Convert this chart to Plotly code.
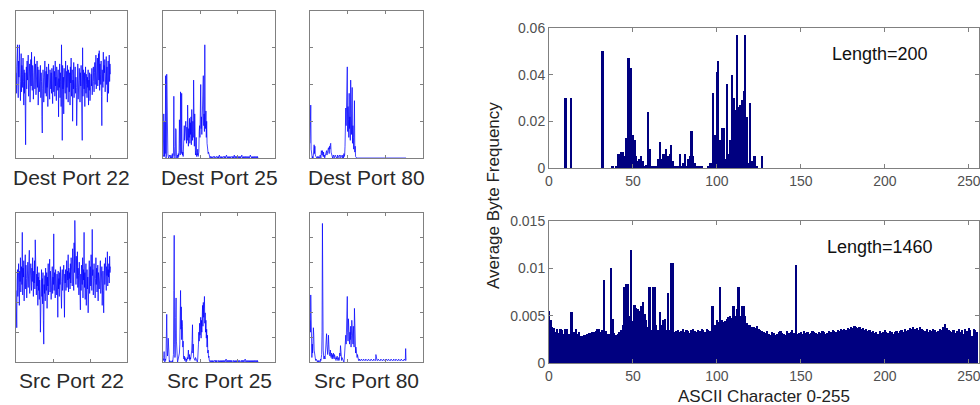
import plotly.graph_objects as go

# ---------------- data ----------------
# Small panels: byte-frequency profiles (0-100 = fraction of panel height), chars 0..255
dest22 = [
 58,44,62,70,77,50,41,66,55,77,48,60,39,52,71,45,
 63,57,48,68,52,36,60,44,58,30,9,55,62,47,66,53,
 59,70,42,61,50,64,38,57,67,49,72,55,46,63,58,40,
 61,52,69,47,56,64,43,59,51,66,48,62,36,54,60,45,
 57,49,63,41,58,52,28,17,47,60,55,38,61,50,66,44,
 53,59,42,62,48,57,35,51,64,46,55,40,60,52,47,58,
 44,61,50,37,56,63,45,53,59,42,66,49,55,39,62,51,
 57,46,60,28,54,48,64,41,58,52,35,77,50,12,63,47,
 55,30,61,49,57,44,66,52,40,59,48,63,54,38,60,50,
 45,58,36,62,51,68,42,56,60,25,53,47,65,41,57,50,
 62,44,55,48,22,59,52,64,40,57,46,61,53,38,58,49,
 63,45,56,12,75,42,60,51,47,58,35,54,62,44,57,50,
 41,55,48,60,36,53,46,58,39,52,44,57,49,61,43,55,
 48,62,52,45,58,65,50,56,70,47,61,54,68,49,59,71,
 53,73,46,64,57,50,66,42,22,60,55,48,72,52,63,58,
 67,45,60,55,69,50,62,38,58,66,44,61,70,52,64,57]

dest25 = [
 2,1,30,12,1,25,3,56,0,1,57,20,28,3,1,0,
 1,2,0,1,0,2,1,0,1,3,0,1,2,42,8,1,
 0,1,20,19,2,0,1,2,0,3,1,5,26,10,2,45,
 8,3,44,6,2,4,1,8,3,22,12,16,19,25,15,10,
 21,12,36,18,8,20,14,27,10,24,16,28,9,33,18,12,
 25,14,53,20,8,30,14,2,5,14,1,3,2,6,1,2,
 4,18,22,14,25,50,20,28,16,30,24,36,56,22,30,18,
 77,26,20,32,14,25,10,6,8,3,4,3,1,1,0,1,
 1,0,1,1,0,1,0,1,1,0,1,1,0,1,0,1,
 1,1,0,1,1,0,1,2,1,0,1,1,0,1,1,0,
 1,0,1,1,0,1,1,0,1,1,2,1,0,1,1,0,
 1,1,0,1,1,0,1,0,1,1,0,1,1,0,1,2,
 1,0,1,1,0,1,1,0,1,1,0,1,1,0,1,1,
 0,1,1,2,1,0,1,1,0,1,1,0,1,1,0,1,
 1,0,1,1,0,1,1,0,1,1,2,1,1,0,1,1,
 0,1,1,0,1,1,0,1,1,0,1,1,0,1,0,0]

dest80 = [
 10,18,36,6,2,1,0,1,0,2,7,9,3,8,2,1,
 0,1,0,0,1,0,0,1,0,0,1,2,1,0,5,4,
 2,5,3,1,4,1,2,0,1,2,1,3,5,2,4,3,
 6,7,5,3,8,6,9,10,4,2,1,1,0,1,2,1,
 0,1,0,2,1,0,1,0,1,2,0,1,0,1,2,1,
 0,1,2,1,0,1,0,2,1,0,3,1,2,8,20,34,
 22,40,30,62,18,35,26,14,44,20,28,12,53,24,16,30,
 48,10,22,14,6,26,39,4,8,1,0,0,0,0,0,0,
 0,0,0,0,0,0,0,0,0,0,0,0,0,0,0,0,
 0,0,0,0,0,0,0,0,0,0,0,0,0,0,0,0,
 0,0,0,0,0,0,0,0,0,0,0,0,0,0,0,0,
 0,0,0,0,0,0,0,0,0,0,0,0,0,0,0,0,
 0,0,0,0,0,0,0,0,0,0,0,0,0,0,0,0,
 0,0,0,0,0,0,0,0,0,0,0,0,0,0,0,0,
 0,0,0,0,0,0,0,0,0,0,0,0,0,0,0,0,
 0,0,0,0,0,0,0,0,0,0,0,0,0,0,0,0]

src22 = [
 48,30,23,55,62,44,58,66,50,38,61,54,70,47,59,64,
 52,87,45,63,57,68,41,60,53,72,49,65,56,43,61,58,
 67,50,62,55,75,46,60,52,66,58,48,63,54,70,57,44,
 61,53,68,49,82,56,62,45,59,51,64,38,57,48,60,42,
 55,47,20,58,50,62,44,56,39,60,28,12,52,46,58,41,
 63,54,48,60,36,57,51,66,45,59,53,69,47,61,55,42,
 58,50,64,46,57,52,86,48,60,55,43,62,51,57,45,59,
 53,30,61,49,56,44,60,52,64,47,58,36,54,62,48,57,
 51,65,46,30,59,53,62,48,57,68,50,61,55,72,47,63,
 56,60,49,66,53,70,58,62,51,76,55,64,48,80,60,95,
 57,66,52,71,60,56,74,50,63,58,45,67,54,61,35,59,
 48,65,57,52,70,43,62,55,87,50,60,42,58,66,38,56,
 62,49,57,33,60,53,68,46,59,64,51,72,55,48,89,58,
 62,45,57,66,50,60,43,56,70,52,63,47,58,65,41,60,
 55,49,62,57,68,46,59,53,64,38,56,61,48,33,58,66,
 52,60,70,55,48,64,58,74,51,62,57,66,53,71,60,64]

src25 = [
 2,1,3,7,1,0,2,1,3,20,32,10,4,8,16,2,
 1,0,1,0,1,0,0,1,0,1,0,2,5,48,85,12,
 3,6,30,43,14,2,1,0,1,2,4,3,6,12,25,48,
 22,37,15,28,24,10,14,3,2,4,1,3,2,1,0,2,
 1,3,2,4,8,3,2,5,1,3,2,4,2,8,15,25,
 6,12,3,2,1,2,1,3,2,1,2,1,0,2,5,12,
 20,14,26,18,22,30,16,28,20,34,38,24,40,30,36,44,
 26,33,20,28,16,22,10,18,6,8,3,4,1,1,0,1,
 1,0,1,1,0,1,1,0,1,0,1,1,0,1,1,0,
 1,1,0,1,0,1,1,0,1,1,0,1,1,0,1,1,
 0,1,1,0,1,1,0,1,1,2,1,0,1,1,0,1,
 1,0,1,1,0,1,1,0,1,1,0,1,0,1,1,0,
 1,1,0,1,1,0,1,1,0,1,1,0,1,1,0,1,
 0,1,1,0,1,1,0,1,1,0,1,1,2,1,0,1,
 1,0,1,1,0,1,1,0,1,1,0,1,1,0,1,1,
 0,1,1,0,1,1,0,1,1,0,1,1,0,1,0,0]

src80 = [
 28,20,45,26,8,3,12,6,14,23,18,8,5,3,2,1,
 2,1,0,1,0,1,0,0,1,0,1,0,2,1,3,5,
 20,93,49,8,3,2,4,3,2,6,10,14,19,12,8,5,
 10,18,12,7,6,4,8,5,3,6,4,2,5,3,6,4,
 2,5,3,4,2,1,3,2,4,3,1,2,3,1,2,6,
 4,11,5,2,1,3,2,1,2,1,0,2,6,10,14,18,
 12,22,16,44,20,14,29,18,26,12,20,15,24,10,18,28,
 14,20,12,24,16,10,36,8,14,6,10,4,8,3,5,2,
 1,1,1,2,1,1,1,1,2,1,1,1,1,1,2,1,
 1,1,1,1,2,1,1,1,1,1,1,2,1,1,1,1,
 1,1,2,1,1,1,1,1,1,2,1,1,1,1,1,5,
 2,1,1,1,1,2,1,1,1,1,1,1,2,1,1,1,
 1,1,1,2,1,1,1,1,1,1,2,1,1,1,1,1,
 2,1,1,1,1,1,1,2,1,1,1,1,1,1,2,1,
 1,1,1,1,2,1,1,1,1,1,1,2,1,1,1,1,
 1,1,2,1,1,1,1,1,1,1,2,1,1,1,9,1]

small_panels = [
    ("Dest Port 22", dest22, 25), ("Dest Port 25", dest25, 25), ("Dest Port 80", dest80, 25),
    ("Src Port 22", src22, 20), ("Src Port 25", src25, 100/6), ("Src Port 80", src80, 100/6),
]

# Length=200 payload: non-zero byte frequencies
top_chars = [10, 13, 32, 38, 40, 41, 42, 43, 44, 45, 46, 47, 48, 49, 50, 51, 52, 53, 54, 55, 56, 57, 58,
             59, 60, 61, 62, 63, 64, 65, 66, 67, 68, 69, 70, 71, 72, 73, 74, 75, 76, 77, 78, 79, 80,
             81, 82, 83, 84, 85, 86, 87, 88, 89, 90, 91, 95, 96, 97, 98, 99, 100, 101, 102, 103, 104,
             105, 106, 107, 108, 109, 110, 111, 112, 113, 114, 115, 116, 117, 118, 119, 120, 121, 122,
             123, 124, 127]
top_vals = [0.030, 0.030, 0.050, 0.0005, 0.0006, 0.006, 0.006, 0.007, 0.007, 0.005, 0.013, 0.047, 0.047,
            0.043, 0.014, 0.012, 0.005, 0.003, 0.004, 0.005, 0.003, 0.001, 0.0015, 0.024, 0.008, 0.001,
            0.001, 0.001, 0.001, 0.004, 0.011, 0.004, 0.006, 0.006, 0.008, 0.005, 0.006, 0.010, 0.003,
            0.001, 0.0005, 0.001, 0.006, 0.0005, 0.002, 0.006, 0.001, 0.004, 0.005, 0.016, 0.005, 0.002,
            0.001, 0.001, 0.0005, 0.0005, 0.0005, 0.002, 0.002, 0.032, 0.014, 0.041, 0.046, 0.012, 0.017,
            0.017, 0.004, 0.036, 0.006, 0.012, 0.040, 0.030, 0.025, 0.057, 0.026, 0.027, 0.029, 0.033,
            0.057, 0.022, 0.002, 0.028, 0.003, 0.005, 0.005, 0.001, 0.005]

# Length=1460 payload: byte frequency for chars 0..255
bottom_vals = [
 .0055,.0045,.0038,.0037,.0033,.0036,.0032,.0036,.0035,.0031,.0036,.0036,.0031,.0054,.0054,.0033,
 .0036,.0031,.0033,.0029,.0028,.0030,.0030,.0031,.0032,.0032,.0033,.0033,.0034,.0036,.0036,.0033,
 .0035,.0088,.0034,.0031,.0031,.0100,.0046,.0032,.0030,.0031,.0033,.0035,.0040,.0080,.0083,.0083,
 .0050,.0119,.0044,.0061,.0058,.0057,.0055,.0060,.0064,.0052,.0045,.0038,.0080,.0035,.0080,.0080,
 .0040,.0035,.0054,.0040,.0045,.0046,.0035,.0074,.0035,.0106,.0106,.0033,.0034,.0035,.0033,.0034,
 .0036,.0033,.0035,.0034,.0032,.0035,.0036,.0034,.0033,.0035,.0034,.0036,.0035,.0033,.0036,.0035,
 .0034,.0060,.0060,.0040,.0045,.0043,.0080,.0045,.0043,.0044,.0046,.0049,.0050,.0048,.0060,.0050,
 .0057,.0080,.0050,.0060,.0060,.0050,.0042,.0040,.0040,.0038,.0038,.0037,.0039,.0036,.0035,.0034,
 .0033,.0032,.0034,.0031,.0030,.0033,.0032,.0030,.0031,.0033,.0034,.0032,.0031,.0030,.0034,.0032,
 .0033,.0035,.0032,.0104,.0031,.0032,.0033,.0031,.0034,.0032,.0033,.0031,.0032,.0034,.0033,.0032,
 .0031,.0033,.0032,.0034,.0033,.0031,.0032,.0034,.0033,.0035,.0034,.0033,.0035,.0034,.0036,.0035,
 .0036,.0035,.0037,.0036,.0038,.0037,.0039,.0038,.0037,.0038,.0036,.0037,.0035,.0036,.0034,.0035,
 .0033,.0034,.0032,.0033,.0031,.0034,.0032,.0033,.0035,.0033,.0032,.0034,.0033,.0031,.0033,.0034,
 .0032,.0034,.0035,.0033,.0036,.0034,.0035,.0037,.0036,.0038,.0036,.0037,.0035,.0038,.0036,.0035,
 .0034,.0036,.0033,.0035,.0034,.0036,.0035,.0033,.0034,.0036,.0035,.0038,.0041,.0037,.0035,.0034,
 .0033,.0035,.0032,.0034,.0036,.0033,.0035,.0031,.0036,.0034,.0037,.0035,.0029,.0036,.0035,.0033]

x_ticks = [0, 50, 100, 150, 200, 250]

# ---------------- figure ----------------
W, H = 980, 405
FONT = "Liberation Sans, Arial, sans-serif"
FRAME = "#808080"

def px_x(a, b):
    return [a / W, b / W]

def px_y(top, bot):
    return [1 - bot / H, 1 - top / H]

fig = go.Figure()
layout = {}

col_px = [(16, 127), (163, 275), (310, 423)]
row_px = [(11, 158), (213, 362)]
label_y = [177, 380]

for i, (name, vals, dy) in enumerate(small_panels):
    r, c = divmod(i, 3)
    n = i + 1
    xa = "x" if n == 1 else f"x{n}"
    ya = "y" if n == 1 else f"y{n}"
    fig.add_trace(go.Scatter(x=list(range(len(vals))), y=vals, mode="lines",
                             line=dict(color="rgba(0,0,255,0.72)", width=1),
                             xaxis=xa, yaxis=ya, showlegend=False, hoverinfo="skip"))
    common = dict(showgrid=False, zeroline=False, showline=True, linecolor=FRAME, linewidth=1,
                  mirror="ticks", ticks="inside", ticklen=3, tickcolor=FRAME, showticklabels=False,
                  automargin=False)
    layout["xaxis" if n == 1 else f"xaxis{n}"] = dict(domain=px_x(*col_px[c]), range=[0, 300],
                                                        dtick=100, anchor=ya, **common)
    layout["yaxis" if n == 1 else f"yaxis{n}"] = dict(domain=px_y(*row_px[r]), range=[0, 100],
                                                        dtick=dy, tick0=0, anchor=xa, **common)

# Right bar charts
top_full = [0.0] * 256
for ch, v in zip(top_chars, top_vals):
    top_full[ch] = v

fig.add_trace(go.Bar(x=list(range(256)), y=top_full, marker=dict(color="#000080", line=dict(width=0)),
                     xaxis="x7", yaxis="y7", showlegend=False, hoverinfo="skip"))
fig.add_trace(go.Bar(x=list(range(256)), y=bottom_vals, marker=dict(color="#000080", line=dict(width=0)),
                     xaxis="x8", yaxis="y8", showlegend=False, hoverinfo="skip"))

rcommon = dict(showgrid=False, zeroline=False, showline=True, linecolor=FRAME, linewidth=1,
               mirror="ticks", ticks="inside", ticklen=4, tickcolor=FRAME, automargin=False,
               ticklabeloverflow="allow",
               tickfont=dict(family=FONT, size=14, color="#505050"))
layout["xaxis7"] = dict(domain=px_x(549, 979), range=[0, 256], tickvals=x_ticks, anchor="y7", **rcommon)
layout["yaxis7"] = dict(domain=px_y(28, 168), range=[0, 0.06], tickvals=[0, 0.02, 0.04, 0.06],
                        ticktext=["0", "0.02", "0.04", "0.06"], anchor="x7", **rcommon)
layout["xaxis8"] = dict(domain=px_x(549, 979), range=[0, 256], tickvals=x_ticks, anchor="y8", **rcommon)
layout["yaxis8"] = dict(domain=px_y(221, 363), range=[0, 0.015], tickvals=[0, 0.005, 0.01, 0.015],
                        ticktext=["0", "0.005", "0.01", "0.015"], anchor="x8", **rcommon)

annotations = []
for i, (name, vals, dy) in enumerate(small_panels):
    r, c = divmod(i, 3)
    cx = (col_px[c][0] + col_px[c][1]) / 2 / W
    annotations.append(dict(text=name, x=cx, y=1 - label_y[r] / H, xref="paper", yref="paper",
                            showarrow=False, xanchor="center", yanchor="middle",
                            font=dict(family=FONT, size=21, color="#2a2a2a")))
annotations.append(dict(text="Length=200", x=880 / W, y=1 - 54 / H, xref="paper", yref="paper",
                        showarrow=False, xanchor="center", yanchor="middle",
                        font=dict(family=FONT, size=18, color="#111")))
annotations.append(dict(text="Length=1460", x=880 / W, y=1 - 247 / H, xref="paper", yref="paper",
                        showarrow=False, xanchor="center", yanchor="middle",
                        font=dict(family=FONT, size=18, color="#111")))
annotations.append(dict(text="Average Byte Frequency", x=493 / W, y=1 - 196 / H, xref="paper",
                        yref="paper", showarrow=False, textangle=-90, xanchor="center",
                        yanchor="middle", font=dict(family=FONT, size=17, color="#222")))
annotations.append(dict(text="ASCII Character 0-255", x=764 / W, y=0, xref="paper",
                        yref="paper", showarrow=False, xanchor="center", yanchor="bottom",
                        yshift=-2, borderpad=0,
                        font=dict(family=FONT, size=17, color="#222")))

fig.update_layout(template="none", width=W, height=H, margin=dict(l=0, r=0, t=0, b=0, pad=0),
                  paper_bgcolor="white", plot_bgcolor="white", bargap=0,
                  annotations=annotations, **layout)

# remove the browser's default 8px page margin so the figure sits at the window origin
fig.write_html("out.html", config={"displayModeBar": False},
               post_script="document.body.style.margin='0';document.body.style.padding='0';"
                           "document.body.style.overflow='hidden';")
